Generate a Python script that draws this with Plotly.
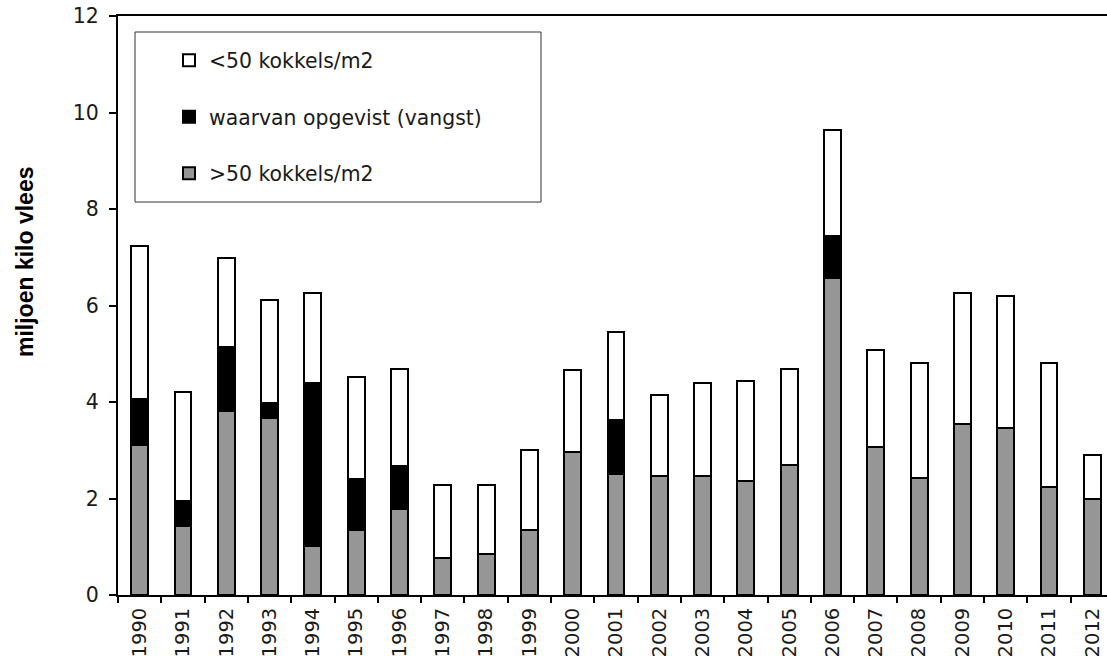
import plotly.graph_objects as go

years = [str(y) for y in range(1990, 2013)]
# >50 kokkels/m2 (gray, bottom segment)
dense = [3.10, 1.43, 3.81, 3.67, 1.02, 1.34, 1.79, 0.77, 0.84, 1.34, 2.97, 2.50,
         2.46, 2.46, 2.36, 2.70, 6.56, 3.06, 2.43, 3.54, 3.46, 2.23, 1.98]
# waarvan opgevist (vangst) (black, middle segment)
catch = [0.96, 0.52, 1.32, 0.31, 3.37, 1.06, 0.88, 0.0, 0.0, 0.0, 0.0, 1.12,
         0.0, 0.0, 0.0, 0.0, 0.88, 0.0, 0.0, 0.0, 0.0, 0.0, 0.0]
# <50 kokkels/m2 (white, top segment)
sparse = [3.17, 2.25, 1.86, 2.13, 1.87, 2.12, 2.01, 1.52, 1.45, 1.67, 1.69, 1.84,
          1.68, 1.94, 2.07, 1.99, 2.20, 2.01, 2.37, 2.71, 2.74, 2.57, 0.92]

y_ticks = [0, 2, 4, 6, 8, 10, 12]

FONT = "DejaVu Sans"
TXT = "#1a1a1a"
W, H = 1107, 656
L, R, T, B = 118, 0, 16, 61
pw, ph = W - L - R, H - T - B

def px_x(x):
    return (x - L) / pw

def px_y(y):
    return 1 - (y - T) / ph

line = dict(color="black", width=2)
bw = 0.39

fig = go.Figure()
fig.add_trace(go.Bar(x=years, y=dense, name=">50 kokkels/m2", marker=dict(color="#969696", line=line),
                     width=bw, legendgroup="c", legendrank=3))
fig.add_trace(go.Bar(x=years, y=catch, name="waarvan opgevist (vangst)", marker=dict(color="#000000", line=line),
                     width=bw, legendgroup="b", legendrank=2))
fig.add_trace(go.Bar(x=years, y=sparse, name="<50 kokkels/m2", marker=dict(color="#ffffff", line=line),
                     width=bw, legendgroup="a", legendrank=1))

fig.update_layout(
    width=W, height=H,
    margin=dict(l=L, r=R, t=T, b=B, pad=0),
    barmode="stack",
    plot_bgcolor="white", paper_bgcolor="white",
    font=dict(family=FONT, size=19, color=TXT),
    showlegend=True,
    legend=dict(
        x=px_x(169), y=px_y(40.5), xanchor="left", yanchor="top",
        bgcolor="rgba(0,0,0,0)", borderwidth=0,
        traceorder="grouped", tracegroupgap=27,
        font=dict(family=FONT, size=20.4, color=TXT),
    ),
    xaxis=dict(
        type="category", range=[-0.5, 22.34],
        showline=True, linecolor="black", linewidth=2, mirror=True,
        ticks="outside", tickson="boundaries", ticklen=6, tickwidth=1.5, tickcolor="black",
        tickangle=-90, tickfont=dict(family=FONT, size=19.5, color=TXT),
        ticklabelstandoff=3,
        showgrid=False, zeroline=False, automargin=False, fixedrange=True,
    ),
    yaxis=dict(
        range=[0, 12], tickvals=y_ticks,
        showline=True, linecolor="black", linewidth=2, mirror=False,
        ticks="outside", ticklen=7, tickwidth=1.5, tickcolor="black",
        ticklabelstandoff=6,
        tickfont=dict(family=FONT, size=20.5, color=TXT),
        showgrid=False, zeroline=False, automargin=False, fixedrange=True,
    ),
    shapes=[dict(type="rect", xref="paper", yref="paper",
                 x0=px_x(135), x1=px_x(541), y0=px_y(202), y1=px_y(32),
                 line=dict(color="#333333", width=1), fillcolor="rgba(0,0,0,0)", layer="above")],
    annotations=[dict(text="<b>miljoen kilo vlees</b>", textangle=-90, xref="paper", yref="paper",
                      x=px_x(25), y=px_y(262), xanchor="center", yanchor="middle", showarrow=False,
                      font=dict(family="Liberation Sans", size=23, color="black"))],
)

fig.write_html("out.html", config={"displayModeBar": False},
               post_script="document.body.style.margin='0';")
